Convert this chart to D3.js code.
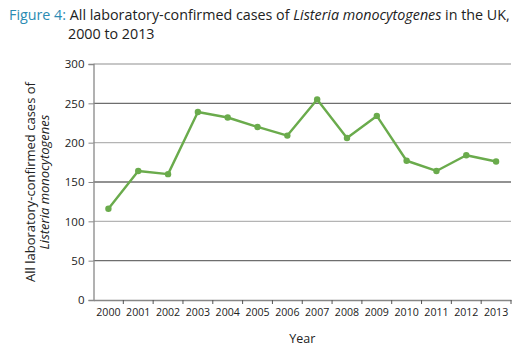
<!DOCTYPE html>
<html>
<head>
<meta charset="utf-8">
<script src="https://cdn.jsdelivr.net/npm/d3@7"></script>
<style>
  html, body { margin: 0; padding: 0; background: #fff; }
  svg { display: block; font-family: "Open Sans", "Noto Sans", sans-serif; }
</style>
</head>
<body>
<svg id="chart" width="523" height="348"></svg>
<script>
// Annual laboratory-confirmed Listeria monocytogenes cases, UK
const years = ["2000","2001","2002","2003","2004","2005","2006","2007","2008","2009","2010","2011","2012","2013"];
const cases = [116, 164, 160, 239, 232, 220, 209, 255, 206, 234, 177, 164, 184, 176];
const yTicks = [0, 50, 100, 150, 200, 250, 300];

const svg = d3.select("#chart");
const margin = { left: 93.5, right: 12, top: 64, bottom: 48 };
const W = 523, H = 348;

const x = d3.scaleBand().domain(years).range([margin.left, W - margin.right]).padding(0);
const y = d3.scaleLinear().domain([0, 300]).range([H - margin.bottom, margin.top]);

// Title
const title = svg.append("text").attr("x", 9).attr("y", 20).style("font-size", "14.3px").attr("fill", "#222");
title.append("tspan").attr("fill", "#2b8bb3").text("Figure 4: ");
title.append("tspan").text("All laboratory-confirmed cases of ");
title.append("tspan").style("font-style", "italic").text("Listeria monocytogenes");
title.append("tspan").text(" in the UK,");
svg.append("text").attr("x", 68).attr("y", 39).style("font-size", "14.3px").attr("fill", "#222").text("2000 to 2013");

// Horizontal gridlines
svg.append("g").selectAll("line").data(yTicks.filter(d => d > 0)).join("line")
  .attr("x1", margin.left).attr("x2", W - margin.right)
  .attr("y1", d => y(d)).attr("y2", d => y(d))
  .attr("stroke", d => (d / 50) % 2 === 1 ? "#6e6e6e" : "#b4b4b4")
  .attr("stroke-width", 1.3);

// Y axis
const yAxis = svg.append("g").attr("transform", `translate(${margin.left},0)`)
  .call(d3.axisLeft(y).tickValues(yTicks).tickSize(5).tickPadding(4));
yAxis.select(".domain").attr("stroke", "#888").attr("stroke-width", 1.3);
yAxis.selectAll(".tick line").attr("stroke", "#888");
yAxis.selectAll(".tick text").attr("fill", "#222").style("font-size", "11.5px").style("font-family", "'Open Sans', sans-serif");

// X axis with ticks on band boundaries
const xAxis = svg.append("g").attr("transform", `translate(0,${y(0)})`)
  .call(d3.axisBottom(x).tickSize(0).tickPadding(8));
xAxis.select(".domain").attr("stroke", "#888").attr("stroke-width", 1.3);
xAxis.selectAll(".tick text").attr("fill", "#222").style("font-size", "10.6px").style("font-family", "'Open Sans', sans-serif");
xAxis.append("g").selectAll("line").data(years.slice(1).concat(["end"])).join("line")
  .attr("x1", (d, i) => x(years[0]) + x.bandwidth() * (i + 1))
  .attr("x2", (d, i) => x(years[0]) + x.bandwidth() * (i + 1))
  .attr("y1", 0).attr("y2", 4)
  .attr("stroke", "#555").attr("stroke-width", 1);

// Axis titles
svg.append("text").attr("x", (margin.left + W - margin.right) / 2).attr("y", 343)
  .attr("text-anchor", "middle").style("font-size", "12.5px").attr("fill", "#222").text("Year");

const yl = svg.append("text").attr("transform", `translate(0,${(y(0) + y(300)) / 2}) rotate(-90)`)
  .attr("text-anchor", "middle").style("font-size", "13px").attr("fill", "#222");
yl.append("tspan").attr("x", 0).attr("y", 35).text("All laboratory-confirmed cases of");
yl.append("tspan").attr("x", 0).attr("y", 49).style("font-style", "italic").text("Listeria monocytogenes");

// Series line and markers
const green = "#6aab4c";
const cx = (d, i) => x(years[i]) + x.bandwidth() / 2;
svg.append("path").datum(cases)
  .attr("fill", "none").attr("stroke", green).attr("stroke-width", 2.4).attr("stroke-linejoin", "round")
  .attr("d", d3.line().x(cx).y(d => y(d)));
svg.append("g").selectAll("circle").data(cases).join("circle")
  .attr("cx", cx).attr("cy", d => y(d)).attr("r", 3.2).attr("fill", green);
</script>
</body>
</html>
